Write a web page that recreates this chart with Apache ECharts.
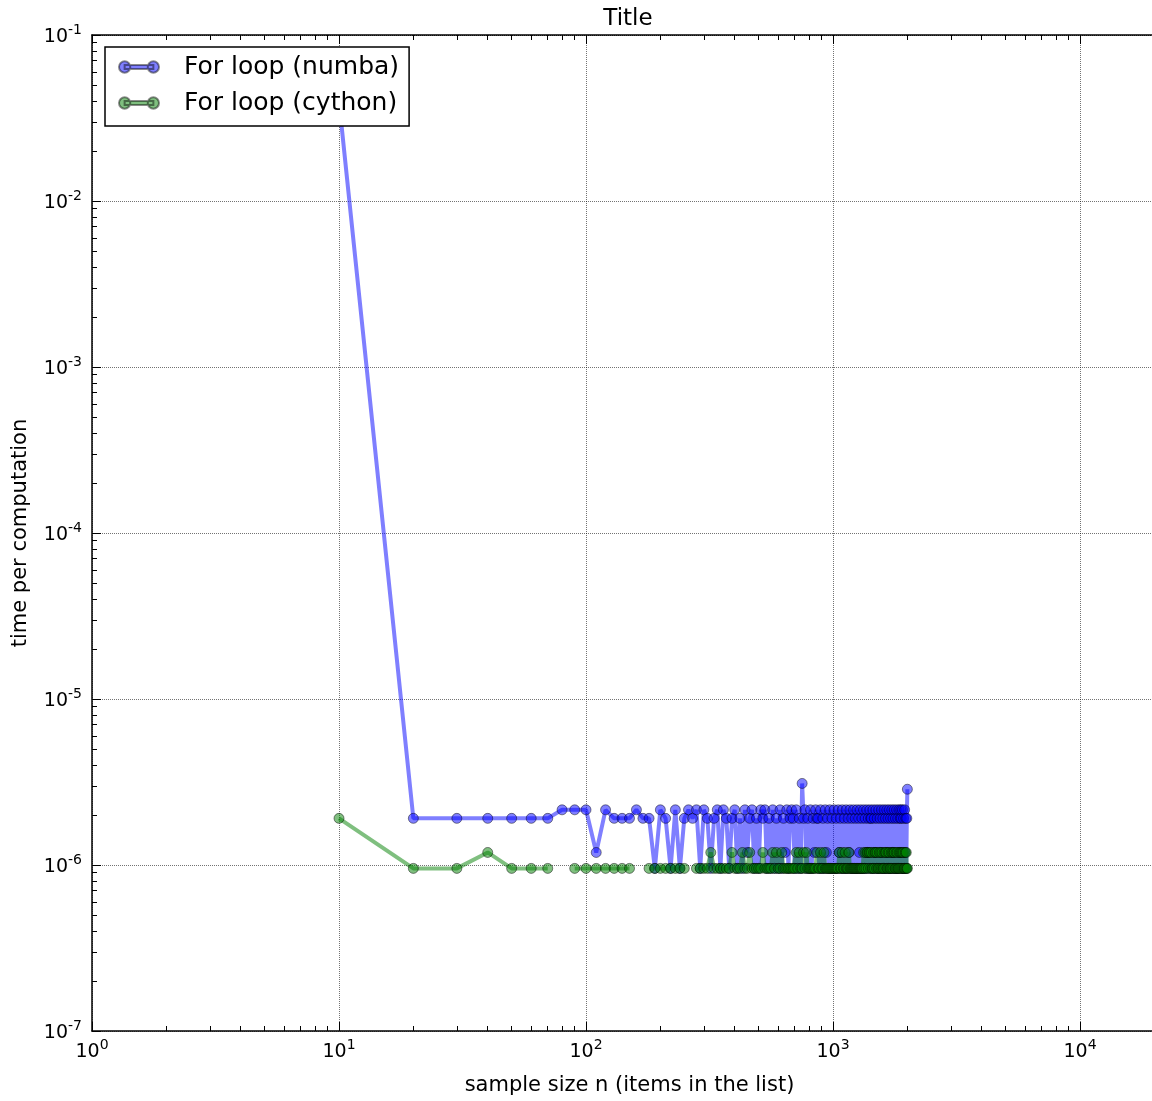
<!DOCTYPE html>
<html lang="en">
<head>
    <meta charset="UTF-8">
    <title>Title</title>
    <script src="https://cdn.jsdelivr.net/npm/echarts@6/dist/echarts.min.js"></script>
    <style>
        body { margin: 0; background: #fff; }
        #main { width: 1152px; height: 1101px; }
    </style>
</head>
<body>
<div id="main"></div>
<script type="text/javascript">
    // sample size n
    var sampleSizes = [
        10, 20, 30, 40, 50, 60, 70, 80, 90, 100, 110, 120, 130, 140, 150, 160, 170, 180, 190, 200,
        210, 220, 230, 240, 250, 260, 270, 280, 290, 300, 310, 320, 330, 340, 350, 360, 370, 380, 390, 400,
        410, 420, 430, 440, 450, 460, 470, 480, 490, 500, 510, 520, 530, 540, 550, 560, 570, 580, 590, 600,
        610, 620, 630, 640, 650, 660, 670, 680, 690, 700, 710, 720, 730, 740, 750, 760, 770, 780, 790, 800,
        810, 820, 830, 840, 850, 860, 870, 880, 890, 900, 910, 920, 930, 940, 950, 960, 970, 980, 990, 1000,
        1010, 1020, 1030, 1040, 1050, 1060, 1070, 1080, 1090, 1100, 1110, 1120, 1130, 1140, 1150, 1160, 1170, 1180, 1190, 1200,
        1210, 1220, 1230, 1240, 1250, 1260, 1270, 1280, 1290, 1300, 1310, 1320, 1330, 1340, 1350, 1360, 1370, 1380, 1390, 1400,
        1410, 1420, 1430, 1440, 1450, 1460, 1470, 1480, 1490, 1500, 1510, 1520, 1530, 1540, 1550, 1560, 1570, 1580, 1590, 1600,
        1610, 1620, 1630, 1640, 1650, 1660, 1670, 1680, 1690, 1700, 1710, 1720, 1730, 1740, 1750, 1760, 1770, 1780, 1790, 1800,
        1810, 1820, 1830, 1840, 1850, 1860, 1870, 1880, 1890, 1900, 1910, 1920, 1930, 1940, 1950, 1960, 1970, 1980, 1990, 2000
    ];

    // time per computation, numba
    var numbaTimes = [
        0.04, 1.91e-6, 1.91e-6, 1.91e-6, 1.91e-6, 1.91e-6, 1.91e-6, 2.15e-6, 2.15e-6, 2.15e-6,
        1.19e-6, 2.15e-6, 1.91e-6, 1.91e-6, 1.91e-6, 2.15e-6, 1.91e-6, 1.91e-6, 9.54e-7, 2.15e-6,
        1.91e-6, 9.54e-7, 2.15e-6, 9.54e-7, 1.91e-6, 2.15e-6, 1.91e-6, 2.15e-6, 9.54e-7, 2.15e-6,
        1.91e-6, 9.54e-7, 1.91e-6, 2.15e-6, 9.54e-7, 2.15e-6, 1.91e-6, 9.54e-7, 1.91e-6, 2.15e-6,
        9.54e-7, 1.91e-6, 9.54e-7, 2.15e-6, 1.19e-6, 1.91e-6, 2.15e-6, 9.54e-7, 1.91e-6, 9.54e-7,
        2.15e-6, 1.91e-6, 2.15e-6, 9.54e-7, 1.91e-6, 9.54e-7, 2.15e-6, 9.54e-7, 1.91e-6, 9.54e-7,
        2.15e-6, 9.54e-7, 1.91e-6, 1.19e-6, 2.15e-6, 9.54e-7, 1.91e-6, 2.15e-6, 1.91e-6, 9.54e-7,
        2.15e-6, 9.54e-7, 1.91e-6, 9.54e-7, 3.1e-6, 1.91e-6, 2.15e-6, 9.54e-7, 1.91e-6, 9.54e-7,
        2.15e-6, 9.54e-7, 1.91e-6, 1.19e-6, 2.15e-6, 1.91e-6, 1.91e-6, 9.54e-7, 2.15e-6, 9.54e-7,
        1.91e-6, 9.54e-7, 2.15e-6, 1.19e-6, 1.91e-6, 9.54e-7, 2.15e-6, 9.54e-7, 1.91e-6, 9.54e-7,
        2.15e-6, 9.54e-7, 1.91e-6, 9.54e-7, 2.15e-6, 1.19e-6, 1.91e-6, 9.54e-7, 2.15e-6, 9.54e-7,
        1.91e-6, 9.54e-7, 2.15e-6, 9.54e-7, 1.91e-6, 1.19e-6, 2.15e-6, 9.54e-7, 1.91e-6, 9.54e-7,
        2.15e-6, 9.54e-7, 1.91e-6, 9.54e-7, 2.15e-6, 9.54e-7, 1.91e-6, 1.19e-6, 2.15e-6, 9.54e-7,
        1.91e-6, 9.54e-7, 2.15e-6, 9.54e-7, 1.91e-6, 9.54e-7, 2.15e-6, 1.19e-6, 1.91e-6, 9.54e-7,
        2.15e-6, 1.91e-6, 1.91e-6, 9.54e-7, 2.15e-6, 9.54e-7, 1.91e-6, 1.19e-6, 2.15e-6, 9.54e-7,
        1.91e-6, 9.54e-7, 2.15e-6, 9.54e-7, 1.91e-6, 1.19e-6, 2.15e-6, 9.54e-7, 1.91e-6, 9.54e-7,
        2.15e-6, 9.54e-7, 1.91e-6, 9.54e-7, 2.15e-6, 1.19e-6, 1.91e-6, 9.54e-7, 2.15e-6, 9.54e-7,
        1.91e-6, 9.54e-7, 2.15e-6, 1.19e-6, 1.91e-6, 9.54e-7, 2.15e-6, 9.54e-7, 1.91e-6, 9.54e-7,
        2.15e-6, 9.54e-7, 1.91e-6, 9.54e-7, 2.15e-6, 1.19e-6, 1.91e-6, 2.15e-6, 1.91e-6, 9.54e-7,
        2.15e-6, 9.54e-7, 1.91e-6, 9.54e-7, 2.15e-6, 1.19e-6, 1.91e-6, 9.54e-7, 1.91e-6, 2.86e-6
    ];

    // time per computation, cython ('-' = zero time, not drawn on log axis)
    var cythonTimes = [
        1.91e-6, 9.54e-7, 9.54e-7, 1.19e-6, 9.54e-7, 9.54e-7, 9.54e-7, '-', 9.54e-7, 9.54e-7,
        9.54e-7, 9.54e-7, 9.54e-7, 9.54e-7, 9.54e-7, '-', '-', 9.54e-7, 9.54e-7, 9.54e-7,
        9.54e-7, 9.54e-7, 9.54e-7, 9.54e-7, 9.54e-7, '-', '-', 9.54e-7, 9.54e-7, 9.54e-7,
        9.54e-7, 1.19e-6, 9.54e-7, 9.54e-7, 9.54e-7, 9.54e-7, 9.54e-7, 9.54e-7, 1.19e-6, 9.54e-7,
        9.54e-7, 9.54e-7, 1.19e-6, 9.54e-7, 9.54e-7, 1.19e-6, 9.54e-7, 9.54e-7, 9.54e-7, 9.54e-7,
        9.54e-7, 1.19e-6, 9.54e-7, 9.54e-7, 9.54e-7, 9.54e-7, 1.19e-6, 9.54e-7, 1.19e-6, 9.54e-7,
        9.54e-7, 1.19e-6, 9.54e-7, 9.54e-7, 9.54e-7, 9.54e-7, 9.54e-7, 9.54e-7, 9.54e-7, 9.54e-7,
        1.19e-6, 9.54e-7, 1.19e-6, 9.54e-7, 9.54e-7, 1.19e-6, 9.54e-7, 1.19e-6, 9.54e-7, 9.54e-7,
        9.54e-7, 9.54e-7, 9.54e-7, 9.54e-7, 9.54e-7, 1.19e-6, 9.54e-7, 9.54e-7, 1.19e-6, 9.54e-7,
        9.54e-7, 1.19e-6, 9.54e-7, 9.54e-7, 9.54e-7, 9.54e-7, 9.54e-7, 9.54e-7, 9.54e-7, 9.54e-7,
        9.54e-7, 9.54e-7, 9.54e-7, 9.54e-7, 9.54e-7, 1.19e-6, 9.54e-7, 9.54e-7, 1.19e-6, 9.54e-7,
        9.54e-7, 1.19e-6, 9.54e-7, 9.54e-7, 9.54e-7, 1.19e-6, 9.54e-7, 9.54e-7, 9.54e-7, 9.54e-7,
        9.54e-7, 9.54e-7, 9.54e-7, 9.54e-7, 9.54e-7, 9.54e-7, 9.54e-7, 9.54e-7, 9.54e-7, 9.54e-7,
        9.54e-7, 9.54e-7, 1.19e-6, 9.54e-7, 1.19e-6, 9.54e-7, 1.19e-6, 1.19e-6, 9.54e-7, 1.19e-6,
        1.19e-6, 9.54e-7, 1.19e-6, 9.54e-7, 9.54e-7, 1.19e-6, 9.54e-7, 1.19e-6, 1.19e-6, 9.54e-7,
        1.19e-6, 9.54e-7, 9.54e-7, 1.19e-6, 9.54e-7, 1.19e-6, 9.54e-7, 1.19e-6, 9.54e-7, 9.54e-7,
        1.19e-6, 9.54e-7, 1.19e-6, 1.19e-6, 9.54e-7, 9.54e-7, 1.19e-6, 9.54e-7, 1.19e-6, 9.54e-7,
        9.54e-7, 1.19e-6, 9.54e-7, 1.19e-6, 9.54e-7, 1.19e-6, 1.19e-6, 9.54e-7, 9.54e-7, 1.19e-6,
        9.54e-7, 1.19e-6, 9.54e-7, 9.54e-7, 1.19e-6, 9.54e-7, 1.19e-6, 9.54e-7, 1.19e-6, 9.54e-7,
        1.19e-6, 9.54e-7, 1.19e-6, 9.54e-7, 9.54e-7, 1.19e-6, 9.54e-7, 1.19e-6, 9.54e-7, 9.54e-7
    ];

    var font = 'DejaVu Sans';
    var legendIcon = 'path://M0.5,6A5.5,5.5 0 1 1 11.5,6A5.5,5.5 0 1 1 0.5,6Z M6,4L34,4L34,8L6,8Z M28.5,6A5.5,5.5 0 1 1 39.5,6A5.5,5.5 0 1 1 28.5,6Z';

    function pairs(ys) {
        return sampleSizes.map(function (n, i) { return [n, ys[i]]; });
    }

    // 10^k labels with superscript exponent
    function powLabel(v) {
        return '{b|10}{s|' + Math.round(Math.log10(v)) + '}';
    }
    var powRich = {
        b: { fontSize: 19, fontFamily: font, color: '#000', lineHeight: 24, verticalAlign: 'bottom' },
        s: { fontSize: 14, fontFamily: font, color: '#000', lineHeight: 24, verticalAlign: 'top' }
    };

    var chart = echarts.init(document.getElementById('main'));
    chart.setOption({
        animation: false,
        backgroundColor: '#fff',
        title: {
            text: 'Title',
            left: 623,
            top: 3,
            textAlign: 'center',
            textStyle: { fontFamily: font, fontSize: 23, fontWeight: 'normal', color: '#000' }
        },
        grid: { left: 92, top: 35, width: 1075, height: 996, outerBoundsMode: 'none' },
        legend: {
            orient: 'vertical',
            left: 105,
            top: 47,
            padding: [6, 10, 9, 13],
            itemGap: 8,
            itemWidth: 40,
            itemHeight: 12,
            icon: legendIcon,
            selectedMode: false,
            backgroundColor: '#fff',
            borderColor: '#000',
            borderWidth: 1.5,
            textStyle: { fontFamily: font, fontSize: 25, lineHeight: 28, color: '#000', padding: [0, 0, 0, 20] },
            data: ['For loop (numba)', 'For loop (cython)']
        },
        xAxis: [{
            type: 'log',
            min: 1,
            max: 22500,
            name: 'sample size n (items in the list)',
            nameLocation: 'middle',
            nameGap: 44,
            nameTextStyle: { fontFamily: font, fontSize: 21, color: '#000' },
            axisLine: { lineStyle: { color: '#000', width: 1.5 } },
            axisTick: { inside: true, length: 9, lineStyle: { color: '#000' } },
            minorTick: { show: true, splitNumber: 9, length: 5, lineStyle: { color: '#000' } },
            axisLabel: { formatter: powLabel, rich: powRich, margin: 7, showMaxLabel: false },
            splitLine: { show: true, lineStyle: { color: '#000', type: 'dotted', width: 1, opacity: 0.55 } }
        }, {
            type: 'log',
            position: 'top',
            min: 1,
            max: 22500,
            axisLine: { lineStyle: { color: '#000', width: 1.5 } },
            axisTick: { inside: true, length: 9, lineStyle: { color: '#000' } },
            minorTick: { show: true, splitNumber: 9, length: 5, lineStyle: { color: '#000' } },
            axisLabel: { show: false },
            splitLine: { show: false }
        }],
        yAxis: {
            type: 'log',
            min: 1e-7,
            max: 1e-1,
            name: 'time per computation',
            nameLocation: 'middle',
            nameGap: 61,
            nameTextStyle: { fontFamily: font, fontSize: 21, color: '#000' },
            axisLine: { lineStyle: { color: '#000', width: 1.5 } },
            axisTick: { inside: true, length: 9, lineStyle: { color: '#000' } },
            minorTick: { show: true, splitNumber: 9, length: 5, lineStyle: { color: '#000' } },
            axisLabel: { formatter: powLabel, rich: powRich, margin: 10 },
            splitLine: { show: true, lineStyle: { color: '#000', type: 'dotted', width: 1, opacity: 0.55 } }
        },
        series: [{
            name: 'For loop (numba)',
            type: 'line',
            data: pairs(numbaTimes),
            symbol: 'circle',
            symbolSize: 10,
            lineStyle: { color: '#0000ff', width: 4, opacity: 0.5 },
            itemStyle: { color: 'rgba(0,0,255,0.5)', borderColor: 'rgba(0,0,0,0.45)', borderWidth: 1 },
            emphasis: { disabled: true }
        }, {
            name: 'For loop (cython)',
            type: 'line',
            data: pairs(cythonTimes),
            symbol: 'circle',
            symbolSize: 10,
            lineStyle: { color: '#008000', width: 4, opacity: 0.5 },
            itemStyle: { color: 'rgba(0,128,0,0.5)', borderColor: 'rgba(0,0,0,0.45)', borderWidth: 1 },
            emphasis: { disabled: true }
        }]
    });
</script>
</body>
</html>
